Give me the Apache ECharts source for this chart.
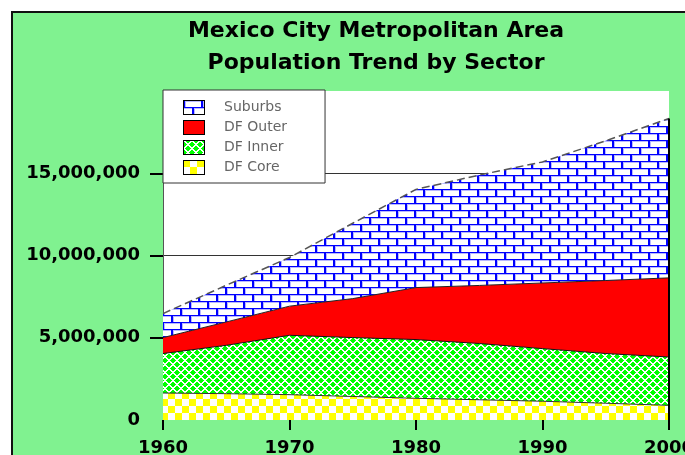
<!DOCTYPE html>
<html>
<head>
<meta charset="utf-8">
<script src="https://cdn.jsdelivr.net/npm/echarts@6/dist/echarts.min.js"></script>
<style>
  html, body { margin: 0; padding: 0; background: #fff; overflow: hidden; }
  #frame {
    position: absolute; left: 11px; top: 11px; width: 700px; height: 460px;
    background: #80f290; border-top: 2px solid #111; border-left: 2px solid #111;
  }
  #chart { position: absolute; left: 0; top: 0; width: 685px; height: 455px; }
</style>
</head>
<body>
<div id="frame"></div>
<div id="chart"></div>
<script>
// years on the x axis
const years = ['1960', '1965', '1970', '1975', '1980', '1985', '1990', '1995', '2000']
// population per sector (stacked, bottom to top)
const dfCore = [1640000, 1600000, 1540000, 1430000, 1320000, 1230000, 1140000, 1020000, 890000]
const dfInner = [2400000, 2940000, 3610000, 3580000, 3570000, 3420000, 3200000, 3020000, 2940000]
const dfOuter = [970000, 1420000, 1770000, 2370000, 3160000, 3530000, 3990000, 4440000, 4810000]
const suburbs = [1460000, 2230000, 2960000, 4580000, 5970000, 6710000, 7360000, 8490000, 9690000]
// tick labels
const yLabels = [0, 5000000, 10000000, 15000000]
const yTicks = [5000000, 10000000, 15000000]

function makeCanvas(w, h, draw) {
  const c = document.createElement('canvas')
  c.width = w
  c.height = h
  draw(c.getContext('2d'))
  return c
}

// brick fill for suburbs
const brick = makeCanvas(18, 14, ctx => {
  ctx.fillStyle = '#fff'
  ctx.fillRect(0, 0, 18, 14)
  ctx.fillStyle = '#b8b8ff'
  ctx.fillRect(0, 1, 18, 1)
  ctx.fillRect(0, 8, 18, 1)
  ctx.fillRect(2, 2, 1, 5)
  ctx.fillRect(11, 9, 1, 5)
  ctx.fillStyle = '#0000ff'
  ctx.fillRect(0, 0, 18, 1)
  ctx.fillRect(0, 7, 18, 1)
  ctx.fillRect(0, 0, 2, 7)
  ctx.fillRect(9, 7, 2, 7)
})
// yellow checker for core
const checker = makeCanvas(14, 14, ctx => {
  ctx.fillStyle = '#fff'
  ctx.fillRect(0, 0, 14, 14)
  ctx.fillStyle = '#ffff00'
  ctx.fillRect(0, 0, 7, 7)
  ctx.fillRect(7, 7, 7, 7)
})
// green lattice for inner
const weave = makeCanvas(8, 8, ctx => {
  ctx.fillStyle = '#00ff00'
  ctx.fillRect(0, 0, 8, 8)
  ctx.fillStyle = '#fff'
  for (let y = 0; y < 8; y++) {
    for (let x = 0; x < 8; x++) {
      if ((x + y) % 8 < 2 || (x - y + 16) % 8 < 2) ctx.fillRect(x, y, 1, 1)
    }
  }
})

function legendIcon(fill) {
  const c = makeCanvas(22, 15, ctx => {
    ctx.fillStyle = typeof fill === 'string' ? fill : ctx.createPattern(fill, 'repeat')
    ctx.fillRect(0, 0, 22, 15)
    ctx.strokeStyle = '#000'
    ctx.lineWidth = 1
    ctx.strokeRect(0.5, 0.5, 21, 14)
  })
  return 'image://' + c.toDataURL()
}

const pat = img => ({ image: img, repeat: 'repeat' })
const last = years.length - 1
const total2000 = dfCore[last] + dfInner[last] + dfOuter[last] + suburbs[last]

function area(name, data, fill, lineStyle) {
  return {
    name: name,
    type: 'line',
    stack: 'total',
    symbol: 'none',
    showSymbol: false,
    lineStyle: lineStyle,
    itemStyle: { color: '#000' },
    areaStyle: { color: fill, opacity: 1 },
    emphasis: { disabled: true },
    data: data
  }
}

const chart = echarts.init(document.getElementById('chart'))
const axisFont = { color: '#000', fontSize: 18, fontWeight: 'bold', fontFamily: 'DejaVu Sans' }
const option = {
  animation: false,
  title: {
    text: 'Mexico City Metropolitan Area\nPopulation Trend by Sector',
    left: 371,
    top: 10,
    textAlign: 'center',
    textStyle: { fontFamily: 'DejaVu Sans', fontWeight: 'bold', fontSize: 22, lineHeight: 32, color: '#000' }
  },
  legend: {
    orient: 'vertical',
    left: 163,
    top: 90,
    backgroundColor: '#fff',
    borderColor: '#333',
    borderWidth: 1,
    borderRadius: 0,
    padding: [10, 38, 8, 20],
    itemWidth: 22,
    itemHeight: 15,
    itemGap: 5,
    selectedMode: false,
    textStyle: { color: '#666', fontFamily: 'DejaVu Sans', fontSize: 14, padding: [0, 0, 0, 14] },
    data: [
      { name: 'Suburbs', icon: legendIcon(brick) },
      { name: 'DF Outer', icon: legendIcon('#ff0000') },
      { name: 'DF Inner', icon: legendIcon(weave) },
      { name: 'DF Core', icon: legendIcon(checker) }
    ]
  },
  grid: {
    left: 163,
    right: 16,
    top: 91,
    bottom: 35,
    show: true,
    backgroundColor: '#fff',
    borderWidth: 0,
    outerBoundsMode: 'none'
  },
  xAxis: {
    type: 'category',
    boundaryGap: false,
    data: years,
    axisLine: { show: false },
    axisTick: { show: true, interval: 1, length: 10, lineStyle: { color: '#000', width: 2 } },
    axisLabel: Object.assign({ margin: 19, interval: 1 }, axisFont),
    splitLine: { show: false }
  },
  yAxis: {
    type: 'value',
    min: 0,
    max: 20000000,
    interval: 5000000,
    axisLine: { show: true, lineStyle: { color: '#555', width: 1 } },
    axisTick: { show: true, length: 13, lineStyle: { color: '#000', width: 2 }, customValues: yTicks },
    axisLabel: Object.assign({ margin: 23, customValues: yLabels, formatter: v => v.toLocaleString('en-US') }, axisFont),
    splitLine: { show: true, lineStyle: { color: '#333', width: 1 } }
  },
  series: [
    area('DF Core', dfCore, pat(checker), { color: '#333', width: 1 }),
    area('DF Inner', dfInner, pat(weave), { color: '#111', width: 1 }),
    area('DF Outer', dfOuter, '#ff0000', { color: '#222', width: 1 }),
    area('Suburbs', suburbs, pat(brick), { color: '#555', width: 1.5, type: [8, 4] }),
    {
      // right edge of the areas
      name: 'edge',
      type: 'line',
      symbol: 'none',
      z: 5,
      lineStyle: { color: '#000', width: 2 },
      data: [[years[last], 0], [years[last], total2000]]
    }
  ]
}
chart.setOption(option, true)
</script>
</body>
</html>
